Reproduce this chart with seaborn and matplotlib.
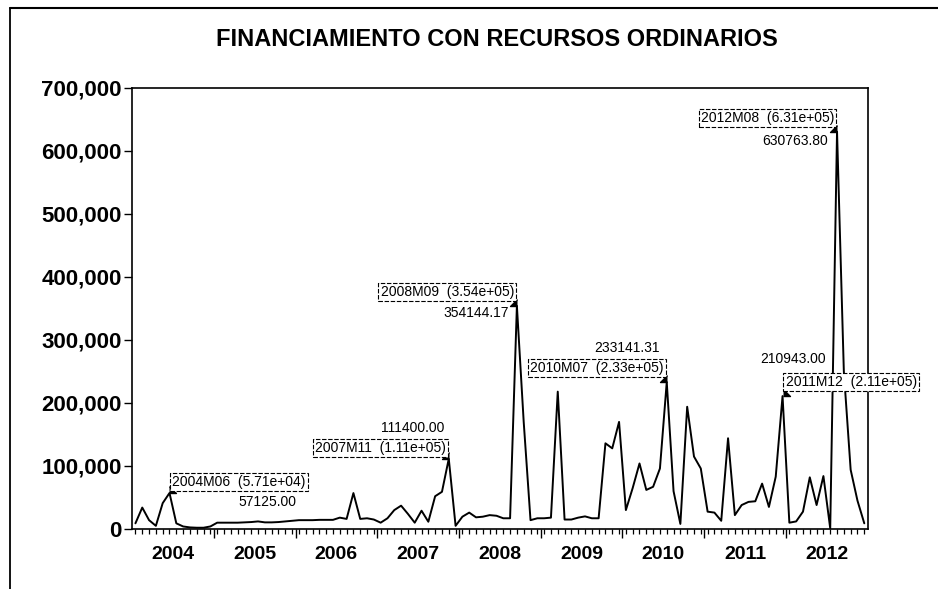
# -*- coding: utf-8 -*-
# Financiamiento con recursos ordinarios, serie mensual 2004M01 - 2012M12

# %% Imports

import numpy as np
import pandas as pd
import matplotlib
matplotlib.use("Agg")
import matplotlib.pyplot as plt
import matplotlib.ticker as mticker
from matplotlib.lines import Line2D
import seaborn as sns

# %% Datos (una lista por anio)

anios = [2004, 2005, 2006, 2007, 2008, 2009, 2010, 2011, 2012]

v2004 = [9000, 34000, 14000, 5000, 41000, 57125.00, 9000, 4000, 2500, 2000, 2000, 4000]
v2005 = [10000, 10000, 10000, 10000, 10500, 11000, 12000, 10500, 10500, 11000, 12000, 13000]
v2006 = [14000, 14000, 14000, 14500, 14500, 14500, 18000, 16000, 57000, 16000, 17000, 15000]
v2007 = [10000, 17000, 30000, 37000, 24000, 10000, 29000, 11500, 52000, 59000, 111400.00, 5000]
v2008 = [19500, 26000, 18500, 19500, 22000, 21000, 17000, 17000, 354144.17, 170000, 14000, 17000]
v2009 = [17000, 18000, 218000, 15000, 15000, 18000, 20000, 17000, 17000, 136000, 128000, 170000]
v2010 = [30000, 65000, 104000, 62000, 67000, 96000, 233141.31, 60000, 8000, 194000, 115000, 96000]
v2011 = [27500, 26000, 13000, 144000, 22000, 38000, 43000, 44000, 72000, 35000, 83000, 210943.00]
v2012 = [10000, 12000, 27500, 82000, 38000, 84000, 1000, 630763.80, 250000, 94000, 45000, 9000]

valores = v2004 + v2005 + v2006 + v2007 + v2008 + v2009 + v2010 + v2011 + v2012
periodos = [f"{a}M{m:02d}" for a in anios for m in range(1, 13)]

## periodos marcados con etiqueta en el grafico
marcados = ["2004M06", "2007M11", "2008M09", "2010M07", "2011M12", "2012M08"]

df = pd.DataFrame({"periodo": periodos, "t": np.arange(len(periodos)), "monto": valores})

# %% Posicion de las etiquetas (pixeles respecto al punto)
## lado de la caja, desplazamiento de la caja, desplazamiento del valor
estilo_etq = {
    "2004M06": ("left", (3, 4), (98, -9), "center"),
    "2007M11": ("right", (-3, 4), (-4, 31), "right"),
    "2008M09": ("right", (-3, 7), (-8, -7), "right"),
    "2010M07": ("right", (-3, 7), (-7, 34), "right"),
    "2011M12": ("left", (3, 7), (11, 37), "center"),
    "2012M08": ("right", (-3, 7), (-9, -9), "right"),
}

# %% Grafico

sns.set_theme(style="white")
plt.rcParams["font.family"] = ["Liberation Sans", "DejaVu Sans"]

fig = plt.figure(figsize=(9.38, 5.89), dpi=100)
ax = fig.add_axes([0.1404, 0.1019, 0.7850, 0.7487])

sns.lineplot(data=df, x="t", y="monto", color="black", linewidth=1.4, ax=ax)

ax.set_xlim(-0.55, 107.55)
ax.set_ylim(0, 700000)
ax.set_xlabel("")
ax.set_ylabel("")

## eje y
ax.yaxis.set_major_locator(mticker.MultipleLocator(100000))
ax.yaxis.set_major_formatter(mticker.StrMethodFormatter("{x:,.0f}"))
ax.tick_params(axis="y", which="major", left=True, direction="out", length=5.8,
               width=1, pad=1.5, labelsize=16, colors="black")

## eje x: anio al centro, marcas mensuales
centros = [12 * k + 5.5 for k in range(len(anios))]
ax.set_xticks(centros)
ax.set_xticklabels([str(a) for a in anios])
ax.set_xticks(np.arange(len(periodos)), minor=True)
ax.tick_params(axis="x", which="major", bottom=True, length=0, pad=12,
               labelsize=14, colors="black")
ax.tick_params(axis="x", which="minor", bottom=True, direction="out", length=3.8,
               width=0.9, color="black")
limites = [12 * k - 0.5 for k in range(1, len(anios))]
ax.vlines(limites, -0.02, 0, transform=ax.get_xaxis_transform(), color="black",
          lw=1, clip_on=False)

for lbl in ax.get_xticklabels() + ax.get_yticklabels():
    lbl.set_fontweight("bold")

for s in ax.spines.values():
    s.set_color("black")
    s.set_linewidth(1.2)

## etiquetas de los puntos marcados
for p in marcados:
    fila = df[df["periodo"] == p].iloc[0]
    lado, off_caja, off_valor, ha_valor = estilo_etq[p]
    ax.annotate(f"{p}  ({fila['monto']:.2e})", xy=(fila["t"], fila["monto"]),
                xytext=off_caja, textcoords="offset pixels", ha=lado, va="bottom",
                fontsize=10, color="black",
                bbox=dict(boxstyle="square,pad=0.15", fc="white", ec="black",
                          lw=0.8, ls=(0, (4, 1.5))))
    ax.annotate(f"{fila['monto']:.2f}", xy=(fila["t"], fila["monto"]),
                xytext=off_valor, textcoords="offset pixels", ha=ha_valor,
                va="center", fontsize=10, color="black")
    ## triangulito en la esquina de la caja
    if lado == "right":
        tri = [(0, 0), (-1, 0), (0, 1)]
    else:
        tri = [(0, 0), (1, 0), (0, 1)]
    ax.plot(fila["t"], fila["monto"], marker=tri, markersize=10, color="black",
            clip_on=False)

## titulo y marco
fig.text(0.530, 1 - 40 / 589, "FINANCIAMIENTO CON RECURSOS ORDINARIOS",
         ha="center", va="center", fontsize=17, fontweight="bold", color="black")
fig.add_artist(Line2D([10 / 938, 10 / 938], [0, 1 - 8 / 589], color="black", lw=1.3))
fig.add_artist(Line2D([10 / 938, 1.0], [1 - 8 / 589, 1 - 8 / 589], color="black", lw=1.5))

fig.savefig("out.png", dpi=100)
